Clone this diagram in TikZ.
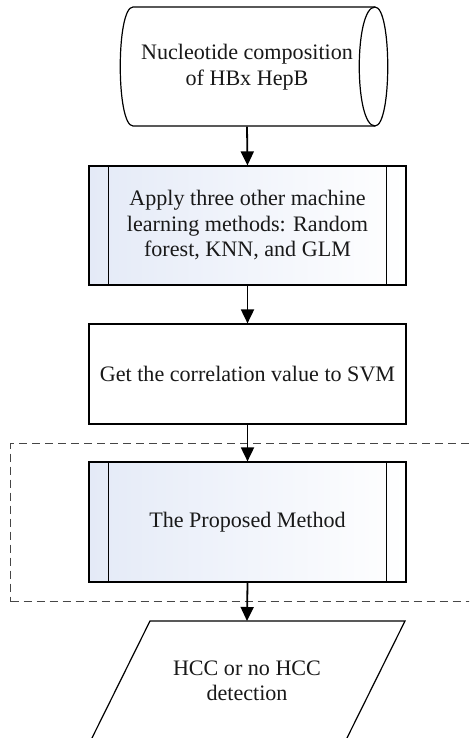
\documentclass[tikz,border=0pt]{standalone}
\usepackage{fontspec}
\setmainfont{Liberation Serif}
\usetikzlibrary{arrows.meta}
\definecolor{tint}{RGB}{228,234,247}
\definecolor{dashgrey}{RGB}{70,70,70}
\begin{document}
\begin{tikzpicture}[x=1pt,y=-1pt,
  outline/.style={draw=black, line width=1.2pt},
  txt/.style={font=\fontsize{22.1}{25.5}\selectfont, align=center, text=black!90},
  procbox/.style={outline, txt, minimum width=317pt, inner sep=0pt},
  subproc/.style={procbox, left color=tint, middle color=white, right color=white},
  flow/.style={line width=1.8pt, -{Triangle[width=13pt,length=14pt]}},
  groupbox/.style={draw=dashgrey, line width=1.2pt, dash pattern=on 8pt off 5pt, inner sep=0pt}
]
\useasboundingbox (0,0) rectangle (469,738);
\clip (0,0) rectangle (469,738);

% grouping frame around the proposed method
\node[groupbox, minimum width=475pt, minimum height=158pt, anchor=north west] (grp) at (10,443) {};

% stored-data input shape
\draw[outline, fill=white] (133,7) -- (375,7)
  .. controls (392,7) and (392,126) .. (375,126)
  -- (133,126)
  .. controls (116,126) and (116,7) .. (133,7) -- cycle;
\draw[outline] (375,7) .. controls (354,7) and (354,126) .. (375,126);
\node[txt, minimum height=119pt] (src) at (247,67) {Nucleotide composition\\of HBx HepB};

% processing steps
\node[subproc, minimum height=119pt] (ml) at (247.5,225.5) {Apply three other machine\\learning methods: Random\\forest, KNN, and GLM};
\draw[outline] ([xshift=20pt]ml.north west) -- ([xshift=20pt]ml.south west);
\draw[outline] ([xshift=-20pt]ml.north east) -- ([xshift=-20pt]ml.south east);

\node[procbox, fill=white, minimum height=100pt] (corr) at (247.5,374) {Get the correlation value to SVM};

\node[subproc, minimum height=120pt] (prop) at (247.5,522) {The Proposed Method};
\draw[outline] ([xshift=20pt]prop.north west) -- ([xshift=20pt]prop.south west);
\draw[outline] ([xshift=-20pt]prop.north east) -- ([xshift=-20pt]prop.south east);

% output parallelogram
\draw[outline, fill=white] (88.5,745) -- (150,621) -- (405,621) -- (343.5,745);
\coordinate (outtop) at (247,621);
\node[txt] (out) at (247,681) {HCC or no HCC\\detection};

% connectors
\draw[flow] (src.south) -- (ml.north);
\draw[flow] (ml.south) -- (corr.north);
\draw[flow] (corr.south) -- (prop.north);
\draw[flow] (prop.south) -- (outtop);
\end{tikzpicture}
\end{document}
